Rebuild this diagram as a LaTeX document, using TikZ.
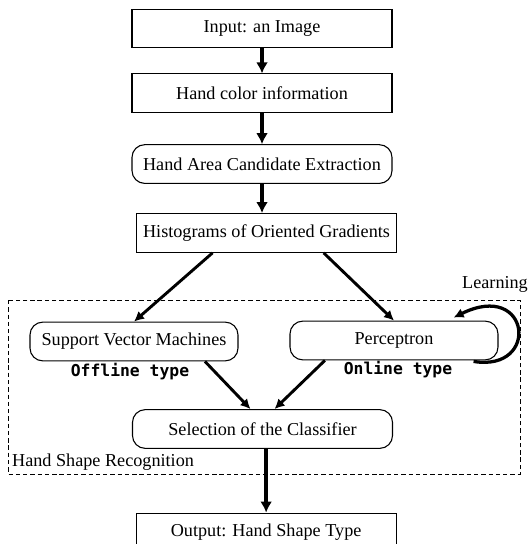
\documentclass[tikz,border=0pt]{standalone}
\usepackage{fontspec}
\setmainfont{Liberation Serif}
\newfontfamily\monobold{DejaVu Sans Mono}
\usepackage{tikz}
\usetikzlibrary{arrows.meta,positioning,calc}

\begin{document}
\begin{tikzpicture}[
  x=0.55pt, y=-0.55pt,
  font=\fontsize{10}{12}\selectfont,
  box/.style={draw, line width=0.6pt, align=center, minimum width=143pt, minimum height=21.3pt, inner sep=2pt},
  rbox/.style={box, rounded corners=7pt},
  tag/.style={font=\monobold\bfseries\fontsize{9}{11}\selectfont},
  arr/.style={-{Latex[length=6pt, width=6.5pt]}, line width=2.2pt},
  arrd/.style={-{Latex[length=5.5pt, width=5.5pt]}, line width=1.6pt},
  loopy/.style={-{Latex[length=5.5pt, width=5.5pt]}, line width=1.8pt}
]
\useasboundingbox (0,0) rectangle (530,544);
% main column
\node[box] (input) at (262,28.5) {Input: an Image};
\node[box, below=13.75pt of input] (color) {Hand color information};
\node[rbox, below=17pt of color] (area) {Hand Area Candidate Extraction};
\node[box, below=16pt of area, xshift=2.5pt] (hog) {Histograms of Oriented Gradients};
\node[rbox] (sel) at (262.5,429) {Selection of the Classifier};
\node[box, below=35pt of sel, xshift=2pt] (out) {Output: Hand Shape Type};
% classifiers
\node[rbox, minimum width=114.4pt] (svm) at (134,341.5) {Support Vector Machines};
\node[rbox, minimum width=114.4pt] (perc) at (394,340.5) {Perceptron};
\node[tag] (offline) at (130,372) {Offline type};
\node[tag] (online) at (398,370) {Online type};
\node (learn) at (495,284) {Learning};
% recognition frame
\draw[line width=0.5pt, dash pattern=on 2.4pt off 1.6pt] (8,300) rectangle (520,474);
\node[anchor=south west, inner sep=1pt] (hsr) at (10,473) {Hand Shape Recognition};

\draw[arr] (input) -- (color);
\draw[arr] (color) -- (area);
\draw[arr] (area.south -| input.south) -- (hog.north -| input.south);
\draw[arrd] ([xshift=-29.7pt]hog.south) -- (svm.north);
\draw[arrd] ([xshift=31.4pt]hog.south) -- (perc.north);
\draw[arrd] ([xshift=39pt]svm.south) -- ([xshift=-6.6pt]sel.north);
\draw[arrd] ([xshift=-38pt]perc.south) -- ([xshift=6.6pt]sel.north);
\draw[arr] (sel.south -| out.north) -- (out.north);
\draw[loopy] ($(perc.south east)+(-25,1)$) .. controls +(67,11) and +(77,-38) .. ($(perc.north east)+(-45,-3)$);
\end{tikzpicture}
\end{document}
